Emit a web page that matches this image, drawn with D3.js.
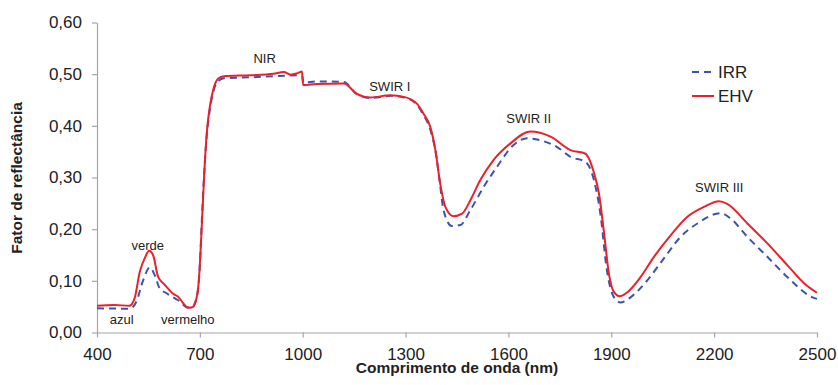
<!DOCTYPE html>
<html>
<head>
<meta charset="utf-8">
<script src="https://cdn.jsdelivr.net/npm/d3@7"></script>
<style>
  body { margin: 0; background: #fff; }
  svg { display: block; font-family: "Liberation Sans", Arial, sans-serif; }
</style>
</head>
<body>
<div id="chart"></div>
<script>
// Spectral reflectance
const wlEHV = [400, 450, 495, 510, 525, 540, 552, 564, 578, 595, 610, 622, 637, 650, 665, 678, 690, 697, 703, 708, 713, 720, 729, 739, 753, 770, 850, 915, 945, 965, 985, 998, 1001, 1040, 1120, 1158, 1197, 1256, 1295, 1333, 1352, 1372, 1387, 1401, 1416, 1440, 1465, 1489, 1518, 1557, 1606, 1664, 1723, 1781, 1825, 1832, 1849, 1864, 1879, 1893, 1908, 1925, 1947, 1985, 2024, 2073, 2122, 2170, 2214, 2238, 2297, 2356, 2414, 2463, 2500];
const valEHV = [0.052, 0.053, 0.052, 0.067, 0.118, 0.145, 0.158, 0.149, 0.108, 0.094, 0.083, 0.075, 0.069, 0.058, 0.048, 0.049, 0.066, 0.100, 0.170, 0.240, 0.310, 0.385, 0.437, 0.470, 0.491, 0.496, 0.498, 0.501, 0.504, 0.499, 0.502, 0.505, 0.479, 0.481, 0.482, 0.462, 0.455, 0.459, 0.456, 0.443, 0.424, 0.398, 0.353, 0.288, 0.243, 0.225, 0.230, 0.256, 0.295, 0.334, 0.366, 0.389, 0.379, 0.353, 0.346, 0.340, 0.310, 0.269, 0.192, 0.114, 0.078, 0.070, 0.078, 0.107, 0.146, 0.188, 0.224, 0.243, 0.254, 0.249, 0.211, 0.172, 0.130, 0.095, 0.077];

const wlIRR = [400, 495, 515, 534, 554, 569, 583, 603, 627, 642, 661, 676, 690, 700, 706, 712, 720, 730, 740, 755, 770, 850, 950, 998, 1002, 1040, 1120, 1158, 1197, 1256, 1295, 1333, 1352, 1372, 1390, 1400, 1411, 1435, 1460, 1489, 1528, 1567, 1615, 1655, 1693, 1742, 1781, 1825, 1849, 1869, 1886, 1908, 1927, 1956, 2005, 2053, 2102, 2151, 2219, 2249, 2297, 2356, 2414, 2487, 2500];
const valIRR = [0.047, 0.046, 0.060, 0.100, 0.126, 0.110, 0.085, 0.076, 0.066, 0.060, 0.049, 0.049, 0.065, 0.130, 0.220, 0.300, 0.380, 0.435, 0.468, 0.487, 0.492, 0.494, 0.497, 0.498, 0.484, 0.486, 0.485, 0.461, 0.454, 0.458, 0.455, 0.441, 0.421, 0.393, 0.340, 0.290, 0.236, 0.206, 0.208, 0.237, 0.282, 0.321, 0.363, 0.376, 0.372, 0.359, 0.340, 0.330, 0.296, 0.226, 0.126, 0.068, 0.058, 0.068, 0.101, 0.143, 0.185, 0.211, 0.231, 0.220, 0.185, 0.146, 0.107, 0.068, 0.065];

const xTicks = [400, 700, 1000, 1300, 1600, 1900, 2200, 2500];
const yTicks = [0, 0.1, 0.2, 0.3, 0.4, 0.5, 0.6];

// band labels: [text, wavelength, value at baseline]
const bandLabels = [
  ["NIR", 889, 0.522],
  ["SWIR I", 1254, 0.468],
  ["SWIR II", 1659, 0.406],
  ["SWIR III", 2215, 0.271],
  ["verde", 548, 0.159],
  ["azul", 472, 0.0155],
  ["vermelho", 665, 0.0155]
];

const W = 838, H = 385;
const x = d3.scaleLinear().domain([400, 2500]).range([97, 817]);
const y = d3.scaleLinear().domain([0, 0.6]).range([332.5, 22.5]);

const svg = d3.select("#chart").append("svg")
  .attr("width", W)
  .attr("height", H);

const fmt = v => d3.format(".2f")(v).replace(".", ",");

// axes
const xAxis = svg.append("g")
  .attr("transform", `translate(0,${y(0)})`)
  .call(d3.axisBottom(x).tickValues(xTicks).tickFormat(d3.format("d"))
    .tickSize(5).tickPadding(10).tickSizeOuter(0));
const yAxis = svg.append("g")
  .attr("transform", `translate(${x(400)},0)`)
  .call(d3.axisLeft(y).tickValues(yTicks).tickFormat(fmt)
    .tickSize(5).tickPadding(10).tickSizeOuter(0));

[xAxis, yAxis].forEach(g => {
  g.select(".domain").attr("stroke", "#a6a6a6").attr("stroke-width", 1.2);
  g.selectAll(".tick line").attr("stroke", "#a6a6a6").attr("stroke-width", 1.2);
  g.selectAll(".tick text").attr("font-size", 17).attr("fill", "#222")
    .attr("font-family", "'Liberation Sans', Arial, sans-serif");
});

// axis titles
svg.append("text")
  .attr("x", 457).attr("y", 373)
  .attr("text-anchor", "middle")
  .attr("font-size", 15.5).attr("font-weight", "bold").attr("fill", "#222")
  .text("Comprimento de onda (nm)");

svg.append("text")
  .attr("transform", "translate(22,178) rotate(-90)")
  .attr("text-anchor", "middle")
  .attr("font-size", 15.5).attr("font-weight", "bold").attr("fill", "#222")
  .text("Fator de reflectância");

// lines
const line = d3.line()
  .x(d => x(d[0]))
  .y(d => y(d[1]))
  .curve(d3.curveMonotoneX);

svg.append("path")
  .datum(wlIRR.map((w, i) => [w, valIRR[i]]))
  .attr("d", line)
  .attr("fill", "none")
  .attr("stroke", "#3a55a8")
  .attr("stroke-width", 2)
  .attr("stroke-dasharray", "7,5");

svg.append("path")
  .datum(wlEHV.map((w, i) => [w, valEHV[i]]))
  .attr("d", line)
  .attr("fill", "none")
  .attr("stroke", "#e8212b")
  .attr("stroke-width", 2);

// band annotations
svg.selectAll(".band")
  .data(bandLabels)
  .join("text")
  .attr("class", "band")
  .attr("x", d => x(d[1]))
  .attr("y", d => y(d[2]))
  .attr("text-anchor", "middle")
  .attr("font-size", 13)
  .attr("fill", "#222")
  .text(d => d[0]);

// legend
const legend = svg.append("g").attr("transform", "translate(692,72)");
const legendItems = [
  { name: "IRR", color: "#3a55a8", dash: "7,5" },
  { name: "EHV", color: "#e8212b", dash: null }
];
legendItems.forEach((it, i) => {
  const g = legend.append("g").attr("transform", `translate(0,${i * 24})`);
  g.append("line")
    .attr("x1", 0).attr("x2", 22)
    .attr("stroke", it.color).attr("stroke-width", 2)
    .attr("stroke-dasharray", it.dash);
  g.append("text")
    .attr("x", 26).attr("y", 6)
    .attr("font-size", 17).attr("fill", "#222")
    .text(it.name);
});
</script>
</body>
</html>
